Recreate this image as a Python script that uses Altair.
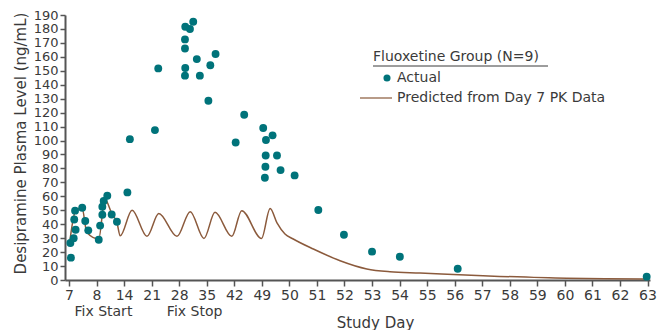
import altair as alt
import pandas as pd

# x tick labels (equally spaced positions on the axis)
tick_labels = ["7", "8", "14", "21", "28", "35", "42", "49", "50", "51", "52",
               "53", "54", "55", "56", "57", "58", "59", "60", "61", "62", "63"]
y_ticks = list(range(0, 191, 10))

# Actual observations: axis position (tick index units) and level (ng/mL)
actual_pos = [0.07, 0.05, 0.17, 0.24, 0.19, 0.22, 0.48, 0.59, 0.70, 1.08, 1.13, 1.21,
              1.21, 1.26, 1.39, 1.55, 1.74, 2.12, 2.21, 3.12, 3.24, 4.22, 4.39, 4.51,
              4.21, 4.21, 5.32, 4.64, 4.22, 5.13, 4.21, 4.75, 5.06, 6.36, 6.05, 7.05,
              7.15, 7.39, 7.14, 7.55, 7.13, 7.68, 7.11, 8.19, 9.05, 9.98, 11.0, 12.01,
              14.11, 20.97]
actual_val = [16, 26.5, 30, 36, 43.4, 49.7, 51.8, 42.3, 35.6, 28.9, 39, 46.8,
              52.5, 56.6, 60.4, 47, 41.8, 62.8, 101, 107.5, 151.7, 181.6, 180, 185.2,
              172.5, 166, 162, 158.4, 152, 154, 146.5, 146.5, 128.5, 118.5, 98.6, 109,
              100.4, 103.7, 89.3, 89.3, 81.2, 78.8, 73.3, 75, 50.2, 32.4, 20.3, 16.7,
              8.1, 2.4]

# Predicted curve
pred_pos = [0.01, 0.22, 0.47, 0.65, 1.08, 1.30, 1.56, 1.74, 1.86, 2.29, 2.83, 3.26,
            3.92, 4.40, 4.90, 5.30, 5.91, 6.27, 6.99, 7.30, 7.55, 7.84, 8.14, 8.87,
            9.84, 10.81, 11.65, 12.74, 15.03, 18.07, 20.83, 20.98]
pred_val = [24.6, 48.5, 52, 34, 29.4, 58, 47.3, 41.3, 31.7, 50, 31.3, 47.7,
            31.3, 49, 29.8, 48.5, 31.3, 49.7, 29.8, 51.3, 41, 33, 29.4, 22.2,
            13.8, 7.9, 5.9, 5, 3.1, 1.2, 0.7, 0.5]

period_labels = ["Fix Start", "Fix Stop"]
period_pos = [1.25, 4.56]

FONT = "DejaVu Sans"
TEAL = "#00737a"
BROWN = "#8b5a3c"
TXT = "#3a3a3a"

W, H = 585, 265

actual_df = pd.DataFrame({"pos": actual_pos, "level": actual_val})
pred_df = pd.DataFrame({"pos": pred_pos, "level": pred_val})
period_df = pd.DataFrame({"pos": period_pos, "label": period_labels})

label_expr = "[" + ",".join("'%s'" % t for t in tick_labels) + "][datum.value]"

xscale = alt.Scale(domain=[-0.145, 21.09], nice=False, zero=False)
yscale = alt.Scale(domain=[0, 190], nice=False)

xaxis = alt.Axis(values=list(range(len(tick_labels))), labelExpr=label_expr,
                 title="Study Day", grid=False, tickSize=6, labelPadding=2,
                 labelOverlap=False, labelFlush=False, labelFontSize=14,
                 titleX=310, titleY=42, titleAlign="center", titleBaseline="middle")
yaxis = alt.Axis(values=y_ticks, title="Desipramine Plasma Level (ng/mL)",
                 grid=False, tickSize=5, labelPadding=2,
                 labelOverlap=False, labelFlush=False, labelFontSize=13,
                 titleX=-45, titleY=128, titleAlign="center", titleBaseline="middle")

line = alt.Chart(pred_df).mark_line(color=BROWN, strokeWidth=1.5, interpolate="monotone").encode(
    x=alt.X("pos:Q", scale=xscale, axis=xaxis),
    y=alt.Y("level:Q", scale=yscale, axis=yaxis),
)

pts = alt.Chart(actual_df).mark_point(filled=True, color=TEAL, size=62, opacity=1).encode(
    x=alt.X("pos:Q", scale=xscale, axis=xaxis),
    y=alt.Y("level:Q", scale=yscale, axis=yaxis),
)

periods = alt.Chart(period_df).mark_text(font=FONT, fontSize=14, color=TXT, baseline="middle").encode(
    x=alt.X("pos:Q", scale=xscale, axis=xaxis),
    y=alt.value(H + 32),
    text="label:N",
)

# custom legend
leg_title = alt.Chart(pd.DataFrame({"t": ["Fluoxetine Group (N=9)"]})).mark_text(
    font=FONT, fontSize=14, color=TXT, align="left", baseline="middle").encode(
    x=alt.value(308), y=alt.value(42), text="t:N")
leg_under = alt.Chart(pd.DataFrame({"a": [0]})).mark_rule(color=TXT, strokeWidth=1).encode(
    x=alt.value(308), x2=alt.value(483), y=alt.value(51))
leg_pt = alt.Chart(pd.DataFrame({"a": [0]})).mark_point(filled=True, color=TEAL, size=50, opacity=1).encode(
    x=alt.value(322), y=alt.value(63))
leg_pt_txt = alt.Chart(pd.DataFrame({"t": ["Actual"]})).mark_text(
    font=FONT, fontSize=14, color=TXT, align="left", baseline="middle").encode(
    x=alt.value(332), y=alt.value(63), text="t:N")
leg_line = alt.Chart(pd.DataFrame({"a": [0]})).mark_rule(color="#a07a60", strokeWidth=1.5).encode(
    x=alt.value(295), x2=alt.value(327), y=alt.value(83))
leg_line_txt = alt.Chart(pd.DataFrame({"t": ["Predicted from Day 7 PK  Data"]})).mark_text(
    font=FONT, fontSize=14, color=TXT, align="left", baseline="middle").encode(
    x=alt.value(332), y=alt.value(83), text="t:N")

chart = alt.layer(line, pts, periods, leg_title, leg_under, leg_pt, leg_pt_txt, leg_line, leg_line_txt).properties(
    width=W, height=H,
    autosize=alt.AutoSizeParams(type="none"),
    padding={"left": 57, "top": 7, "right": 9, "bottom": 50},
).configure_view(stroke=None).configure_axis(
    labelFont=FONT, titleFont=FONT, titleFontSize=15,
    labelColor=TXT, titleColor=TXT, titleFontWeight="normal",
    domainColor="#555555", domainWidth=2, tickColor="#555555", tickWidth=1.5,
)

chart.save("out.html", embed_options={"renderer": "svg", "actions": False})
